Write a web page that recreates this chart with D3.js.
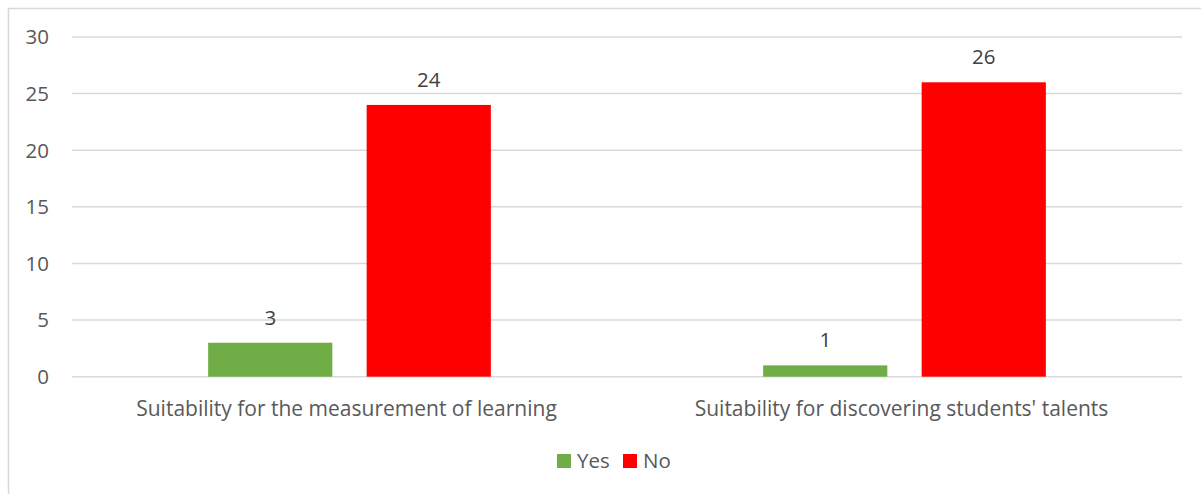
<!DOCTYPE html>
<html>
<head>
<meta charset="utf-8">
<script src="https://cdn.jsdelivr.net/npm/d3@7"></script>
<style>
  body { margin: 0; background: #fff; }
  text { font-family: "Open Sans", sans-serif; fill: #595959; }
</style>
</head>
<body>
<div id="chart"></div>
<script>
// data
let categories = ["Suitability for the measurement of learning", "Suitability for discovering students' talents"];
let seriesNames = ["Yes", "No"];
let yesValues = [3, 1];
let noValues = [24, 26];
let yTicks = [0, 5, 10, 15, 20, 25, 30];

let seriesColors = ["#70ad47", "#ff0000"];

function drawChart() {
    let width = 1201;
    let height = 494;
    let left = 72, right = 1182, top = 37, bottom = 376.7;

    let svg = d3.select("#chart").append("svg")
        .attr("width", width)
        .attr("height", height);

    // chart area border (only left + top visible in the crop)
    svg.append("rect")
        .attr("x", 8.5)
        .attr("y", 8.5)
        .attr("width", 1300)
        .attr("height", 600)
        .style("fill", "none")
        .style("stroke", "#d9d9d9")
        .style("stroke-width", 1.5);

    let y = d3.scaleLinear()
        .domain([0, 30])
        .range([bottom, top]);

    let x0 = d3.scaleBand()
        .domain(categories)
        .range([left, right])
        .paddingInner(0.4906)
        .paddingOuter(0.2453);

    let x1 = d3.scaleBand()
        .domain(seriesNames)
        .range([0, x0.bandwidth()])
        .paddingInner(0.2164);

    // gridlines
    svg.append("g").selectAll("line")
        .data(yTicks)
        .join("line")
        .attr("x1", left)
        .attr("x2", right)
        .attr("y1", d => y(d))
        .attr("y2", d => y(d))
        .style("stroke", "#d9d9d9")
        .style("stroke-width", 1.5);

    // y tick labels
    svg.append("g").selectAll("text")
        .data(yTicks)
        .join("text")
        .attr("x", 49)
        .attr("y", d => y(d))
        .attr("dy", "0.36em")
        .attr("text-anchor", "end")
        .style("font-size", "20.5px")
        .text(d => d);

    let rows = [];
    for (let i = 0; i < categories.length; i++) {
        rows.push({cat: categories[i], series: "Yes", value: yesValues[i]});
        rows.push({cat: categories[i], series: "No", value: noValues[i]});
    }
    let color = d3.scaleOrdinal().domain(seriesNames).range(seriesColors);

    svg.append("g").selectAll("rect")
        .data(rows)
        .join("rect")
        .attr("x", d => x0(d.cat) + x1(d.series))
        .attr("y", d => y(d.value))
        .attr("width", x1.bandwidth())
        .attr("height", d => y(0) - y(d.value))
        .style("fill", d => color(d.series));

    // data labels
    svg.append("g").selectAll("text")
        .data(rows)
        .join("text")
        .attr("x", d => x0(d.cat) + x1(d.series) + x1.bandwidth() / 2)
        .attr("y", d => y(d.value) - 18)
        .attr("text-anchor", "middle")
        .style("font-size", "20.5px")
        .style("fill", "#404040")
        .text(d => d.value);

    // category labels
    svg.append("g").selectAll("text")
        .data(categories)
        .join("text")
        .attr("x", d => x0(d) + x0.bandwidth() / 2 - 3)
        .attr("y", 416)
        .attr("text-anchor", "middle")
        .style("font-size", "21px")
        .text(d => d);

    // legend
    let legendX = [557, 623];
    let legend = svg.append("g").selectAll("g")
        .data(seriesNames)
        .join("g")
        .attr("transform", (d, i) => "translate(" + legendX[i] + ",454)");
    legend.append("rect")
        .attr("width", 14)
        .attr("height", 14)
        .style("fill", d => color(d));
    legend.append("text")
        .attr("x", 20)
        .attr("y", 14)
        .style("font-size", "20.5px")
        .text(d => d);
}

drawChart();
</script>
</body>
</html>
